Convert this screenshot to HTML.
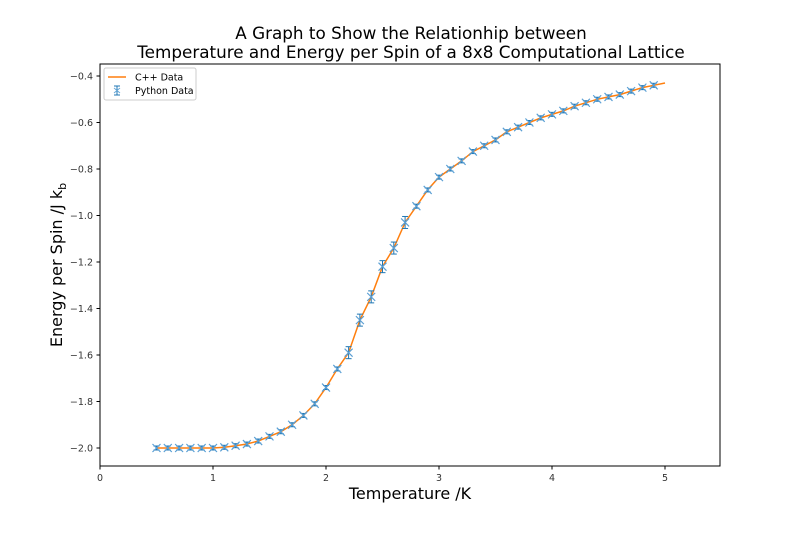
<!DOCTYPE html>
<html><head><meta charset="utf-8"><style>body{margin:0;background:#fff}svg{display:block}</style></head>
<body>
<svg id="s" width="800" height="533" xmlns="http://www.w3.org/2000/svg" font-family="DejaVu Sans, Liberation Sans, sans-serif">
<rect width="800" height="533" fill="#fff"/>
<text x="411" y="39" font-size="16.8" text-anchor="middle" fill="#000">A Graph to Show the Relationhip between</text>
<text x="411" y="58" font-size="16.8" text-anchor="middle" fill="#000">Temperature and Energy per Spin of a 8x8 Computational Lattice</text>
<text x="410" y="499" font-size="16" text-anchor="middle" fill="#000">Temperature /K</text>
<text transform="translate(62,265) rotate(-90)" font-size="16" text-anchor="middle" fill="#000">Energy per Spin /J k<tspan font-size="11" dy="4">b</tspan></text>
<g id="ax"></g>
<rect x="100" y="64" width="620" height="402" fill="none" stroke="#000" stroke-width="1"/>
<g>
<rect x="104" y="68" width="92" height="32" fill="#fff" stroke="#ccc" rx="2"/>
<line x1="108" y1="77" x2="126" y2="77" stroke="#ff7f0e" stroke-width="1.5"/>
<text x="135" y="80.5" font-size="9.5" fill="#000">C++ Data</text>
<text x="135" y="94" font-size="9.5" fill="#000">Python Data</text>
<g stroke="#1f77b4" stroke-width="1"><line x1="117" y1="86" x2="117" y2="95"/><line x1="114" y1="86" x2="120" y2="86"/><line x1="114" y1="95" x2="120" y2="95"/><path d="M114 88l6 5M114 93l6-5" stroke="#6aa9d8"/></g>
</g>
<g id="d"></g>
</svg>
<script>
var X=function(t){return 100+113*t},Y=function(v){return 448-232.5*(v+2)};
var ax='';
for(var i=0;i<=5;i++){var x=X(i);ax+='<line x1="'+x+'" y1="466" x2="'+x+'" y2="469.5" stroke="#000"/><text x="'+x+'" y="481" font-size="9.5" text-anchor="middle" fill="#333">'+i+'</text>';}
for(var v=-2;v<=-0.39;v+=0.2){var y=Y(v);ax+='<line x1="96.5" y1="'+y+'" x2="100" y2="'+y+'" stroke="#000"/><text x="93" y="'+(y+3.5)+'" font-size="9.5" text-anchor="end" fill="#333">\u2212'+Math.abs(v).toFixed(1)+'</text>';}
document.getElementById('ax').innerHTML=ax;
var E=[-2,-2,-2,-2,-2,-2,-1.997,-1.99,-1.983,-1.97,-1.95,-1.93,-1.9,-1.86,-1.81,-1.74,-1.66,-1.59,-1.45,-1.35,-1.22,-1.14,-1.03,-0.96,-0.89,-0.835,-0.8,-0.765,-0.725,-0.7,-0.675,-0.64,-0.62,-0.6,-0.58,-0.565,-0.55,-0.53,-0.515,-0.5,-0.49,-0.48,-0.465,-0.45,-0.44];
var p='',m='';
for(var i=0;i<E.length;i++){var t=0.5+0.1*i,x=X(t),y=Y(E[i]);p+=(i?'L':'M')+x.toFixed(1)+' '+y.toFixed(1);
var e=(t>2.1&&t<2.8)?6:2;
m+='<g stroke="#1f77b4" stroke-width="1"><line x1="'+x+'" y1="'+(y-e)+'" x2="'+x+'" y2="'+(y+e)+'"/><line x1="'+(x-3)+'" y1="'+(y-e)+'" x2="'+(x+3)+'" y2="'+(y-e)+'"/><line x1="'+(x-3)+'" y1="'+(y+e)+'" x2="'+(x+3)+'" y2="'+(y+e)+'"/><path d="M'+(x-4)+' '+(y-4)+'l8 8M'+(x-4)+' '+(y+4)+'l8 -8" stroke="#5a9fd4" stroke-width="1.2"/></g>';}
p+='L'+X(5)+' '+Y(-0.43);
document.getElementById('d').innerHTML='<path d="'+p+'" fill="none" stroke="#ff7f0e" stroke-width="1.5"/>'+m;
</script>
</body></html>
